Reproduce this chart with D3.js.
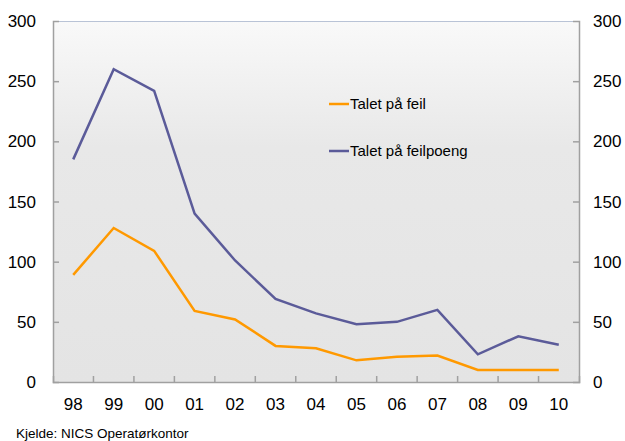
<!DOCTYPE html>
<html><head><meta charset="utf-8">
<script src="https://cdn.jsdelivr.net/npm/d3@7"></script>
<style>body{margin:0;background:#fff;} svg{display:block;font-family:"Liberation Sans",Arial,sans-serif;}</style>
</head><body>
<script>
const categories = ["98","99","00","01","02","03","04","05","06","07","08","09","10"];
const feil = [89,128,109,59,52,30,28,18,21,22,10,10,10];
const feilpoeng = [185,260,242,140,101,69,57,48,50,60,23,38,31];
const yTicks = [0,50,100,150,200,250,300];
const seriesNames = ["Talet på feil","Talet på feilpoeng"];
const colors = ["#ff9900","#5b5b99"];

const W=625,H=441;
const m={left:53,right:46,top:21,bottom:59};
const svg=d3.select("body").append("svg").attr("width",W).attr("height",H);
const defs=svg.append("defs");
const g=defs.append("linearGradient").attr("id","bg").attr("x1",0).attr("y1",0).attr("x2",0).attr("y2",1);
g.append("stop").attr("offset","0%").attr("stop-color","#f9f9f9");
g.append("stop").attr("offset","35%").attr("stop-color","#e8e8e8");
g.append("stop").attr("offset","100%").attr("stop-color","#e4e4e4");

const x=d3.scaleBand().domain(categories).range([m.left,W-m.right]);
const y=d3.scaleLinear().domain([0,300]).range([H-m.bottom,m.top]);

svg.append("rect").attr("x",m.left).attr("y",m.top).attr("width",W-m.left-m.right).attr("height",H-m.top-m.bottom).attr("fill","url(#bg)");
svg.append("line").attr("x1",m.left).attr("x2",W-m.right).attr("y1",m.top+0.5).attr("y2",m.top+0.5).attr("stroke","#b9c3d6");

const axL=svg.append("g").attr("transform",`translate(${m.left},0)`).call(d3.axisRight(y).tickValues(yTicks).tickSize(6).tickFormat(""));
const axR=svg.append("g").attr("transform",`translate(${W-m.right},0)`).call(d3.axisLeft(y).tickValues(yTicks).tickSize(6).tickFormat(""));
const axB=svg.append("g").attr("transform",`translate(0,${H-m.bottom})`).call(d3.axisTop(x).tickValues(categories.slice(1)).tickSize(6).tickFormat(""));
axB.selectAll(".tick").attr("transform",d=>`translate(${x(d)},0)`);
[axL,axR,axB].forEach(a=>{a.selectAll("path,line").attr("stroke","#a0a0a0").attr("stroke-width",1.5);});
axL.selectAll(".tick").filter(d=>d===0||d===300).remove();
axR.selectAll(".tick").filter(d=>d===0||d===300).remove();

svg.append("g").selectAll("text").data(yTicks).join("text")
  .attr("x",36).attr("y",d=>y(d)+6).attr("text-anchor","end").attr("font-size",17).attr("fill","#000").text(d=>d);
svg.append("g").selectAll("text").data(yTicks).join("text")
  .attr("x",593).attr("y",d=>y(d)+6).attr("text-anchor","start").attr("font-size",17).attr("fill","#000").text(d=>d);
svg.append("g").selectAll("text").data(categories).join("text")
  .attr("x",d=>x(d)+x.bandwidth()/2).attr("y",410).attr("text-anchor","middle").attr("font-size",17).attr("fill","#000").text(d=>d);

const line=d3.line().x((d,i)=>x(categories[i])+x.bandwidth()/2).y(d=>y(d));
[feil,feilpoeng].forEach((s,i)=>{
  svg.append("path").datum(s).attr("d",line).attr("fill","none").attr("stroke",colors[i]).attr("stroke-width",2.5).attr("stroke-linejoin","miter");
});

const legY=[104,151];
seriesNames.forEach((n,i)=>{
  svg.append("line").attr("x1",329).attr("x2",349).attr("y1",legY[i]).attr("y2",legY[i]).attr("stroke",colors[i]).attr("stroke-width",2.5);
  svg.append("text").attr("x",350).attr("y",legY[i]+5).attr("font-size",15).attr("fill","#000").text(n);
});

svg.append("text").attr("x",16).attr("y",437.5).attr("font-size",13.5).attr("fill","#000").text("Kjelde: NICS Operatørkontor");
</script>
</body></html>
